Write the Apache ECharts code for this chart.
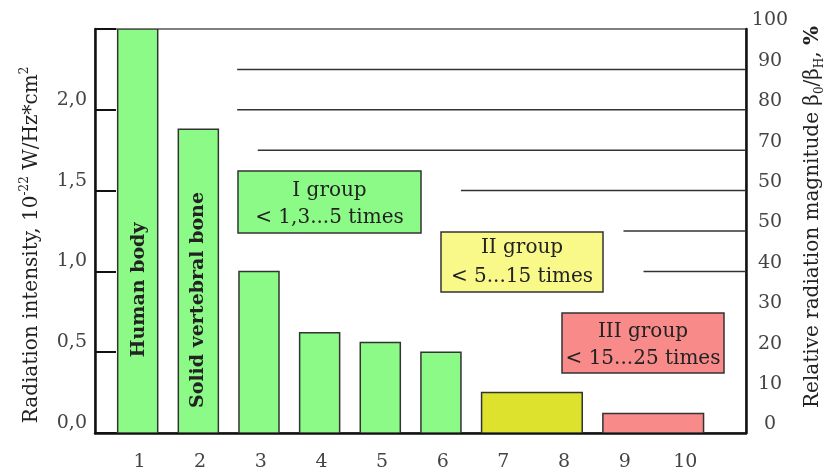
<!DOCTYPE html>
<html>
<head>
<meta charset="utf-8">
<script src="https://cdn.jsdelivr.net/npm/echarts@6/dist/echarts.min.js"></script>
<style>
html,body{margin:0;padding:0;background:#fff;}
#c{width:827px;height:475px;}
</style>
</head>
<body>
<div id="c"></div>
<script>
// ---- data ----
const xTickLabels = ['1','2','3','4','5','6','7','8','9','10'];
const xTickValues = [1,2,3,4,5,6,7,8,9,10];
const barStart = [1, 2, 3, 4, 5, 6, 7, 9];
const barEnd   = [1, 2, 3, 4, 5, 6, 8, 10];
const barValues = [2.5, 1.88, 1.0, 0.62, 0.56, 0.5, 0.25, 0.12];
const barGroup = [0, 0, 0, 0, 0, 0, 1, 2];
const barNames = ['Human body', 'Solid vertebral bone', '', '', '', '', '', ''];
const refLineStart = [2.61, 2.61, 2.95, 6.3, 8.98, 9.31];
const refLineValues = [90, 80, 70, 60, 50, 40];
const leftTickLabels = ['0,0', '0,5', '1,0', '1,5', '2,0', ''];
const rightTickLabels = ['0','10','20','30','40','50','50','70','80','90','100'];
const groupTitles = ['I group', 'II group', 'III group'];
const groupRanges = ['< 1,3...5 times', '< 5...15 times', '< 15...25 times'];

// ---- styles ----
const barFill = ['#8cfa86', '#dde22d', '#f88a8a'];
const boxFill = ['#8cfa86', '#f9f98a', '#f88a8a'];
const SERIF = '"DejaVu Serif", "Liberation Serif", serif';
const X_MIN = 0.266, X_MAX = 11.0;

const chart = echarts.init(document.getElementById('c'), null, {renderer: 'canvas'});

const barData = barValues.map((v, i) => [barStart[i], barEnd[i], v, barGroup[i], barNames[i]]);
const lineData = refLineValues.map((v, i) => [refLineStart[i], v]);

const option = {
  animation: false,
  backgroundColor: '#fff',
  grid: {left: 95, right: 81, top: 29, bottom: 42, show: true, borderColor: '#555', borderWidth: 1.5},
  xAxis: {
    type: 'value', min: X_MIN, max: X_MAX,
    axisLine: {show: true, onZero: false, lineStyle: {color: '#111', width: 2.5}},
    axisTick: {show: false},
    splitLine: {show: false},
    axisLabel: {
      customValues: xTickValues,
      formatter: v => xTickLabels[Math.round(v) - 1],
      margin: 20, fontFamily: SERIF, fontSize: 19, color: '#444'
    }
  },
  yAxis: [{
    type: 'value', min: 0, max: 2.5, interval: 0.5, position: 'left',
    axisLine: {show: true, lineStyle: {color: '#111', width: 2.5}},
    axisTick: {show: true, inside: true, length: 21, lineStyle: {color: '#111', width: 2}},
    splitLine: {show: false},
    axisLabel: {
      formatter: v => leftTickLabels[Math.round(v / 0.5)],
      margin: 8, fontFamily: SERIF, fontSize: 19, color: '#444',
      verticalAlign: 'bottom', lineHeight: 20
    }
  }, {
    type: 'value', min: 0, max: 100, interval: 10, position: 'right',
    axisLine: {show: true, lineStyle: {color: '#111', width: 2.5}},
    axisTick: {show: false},
    splitLine: {show: false},
    axisLabel: {
      formatter: v => rightTickLabels[Math.round(v / 10)],
      margin: 24, align: 'center', fontFamily: SERIF, fontSize: 19, color: '#444',
      verticalAlign: 'bottom', lineHeight: 17
    }
  }],
  series: [{
    type: 'custom',
    xAxisIndex: 0, yAxisIndex: 0,
    data: barData,
    clip: true,
    renderItem: function (params, api) {
      const s = api.value(0), e = api.value(1), v = api.value(2), g = api.value(3);
      const p0 = api.coord([s - 0.36, v]);
      const p1 = api.coord([e + 0.30, 0]);
      return {
        type: 'rect',
        shape: {x: p0[0], y: p0[1], width: p1[0] - p0[0], height: p1[1] - p0[1]},
        style: {fill: barFill[g], stroke: '#333', lineWidth: 1.5}
      };
    },
    z: 2
  }, {
    type: 'custom',
    xAxisIndex: 0, yAxisIndex: 1,
    data: lineData,
    renderItem: function (params, api) {
      const p0 = api.coord([api.value(0), api.value(1)]);
      const p1 = api.coord([X_MAX, api.value(1)]);
      return {
        type: 'line',
        shape: {x1: p0[0], y1: p0[1], x2: p1[0], y2: p1[1]},
        style: {stroke: '#333', lineWidth: 1.5}
      };
    },
    z: 3
  }],
  graphic: [
    // left axis title
    {
      type: 'text', x: 32, y: 245, rotation: Math.PI / 2,
      style: {
        text: 'Radiation intensity, 10{sup|-22} W/Hz*cm{sup|2}',
        fontFamily: SERIF, fontSize: 20, fill: '#222',
        align: 'center', verticalAlign: 'middle', lineHeight: 26,
        rich: {sup: {fontFamily: SERIF, fontSize: 12, fill: '#222', verticalAlign: 'top', lineHeight: 12}}
      }
    },
    // right axis title
    {
      type: 'text', x: 813, y: 217, rotation: Math.PI / 2,
      style: {
        text: 'Relative radiation magnitude β{sub|0}/β{sub|H}, {b|%}',
        fontFamily: SERIF, fontSize: 20, fill: '#222',
        align: 'center', verticalAlign: 'middle', lineHeight: 26,
        rich: {
          sub: {fontFamily: SERIF, fontSize: 12, fill: '#222', verticalAlign: 'bottom', lineHeight: 12},
          b: {fontFamily: SERIF, fontSize: 20, fontWeight: 'bold', fill: '#222'}
        }
      }
    },
    // bar labels
    {
      type: 'text', x: 139, y: 290, rotation: Math.PI / 2, z: 10,
      style: {text: barNames[0], fontFamily: SERIF, fontSize: 19, fontWeight: 'bold', fill: '#222', align: 'center', verticalAlign: 'middle'}
    },
    {
      type: 'text', x: 198, y: 300, rotation: Math.PI / 2, z: 10,
      style: {text: barNames[1], fontFamily: SERIF, fontSize: 19, fontWeight: 'bold', fill: '#222', align: 'center', verticalAlign: 'middle'}
    },
    // group boxes
    {type: 'rect', shape: {x: 238, y: 171, width: 183, height: 62}, style: {fill: boxFill[0], stroke: '#333', lineWidth: 1.5}, z: 10},
    {type: 'text', x: 329.5, y: 204, z: 11, style: {text: groupTitles[0] + '\n' + groupRanges[0], fontFamily: SERIF, fontSize: 20, lineHeight: 27, fill: '#222', align: 'center', verticalAlign: 'middle'}},
    {type: 'rect', shape: {x: 441, y: 232, width: 162, height: 60}, style: {fill: boxFill[1], stroke: '#333', lineWidth: 1.5}, z: 10},
    {type: 'text', x: 522, y: 262, z: 11, style: {text: groupTitles[1] + '\n' + groupRanges[1], fontFamily: SERIF, fontSize: 20, lineHeight: 29, fill: '#222', align: 'center', verticalAlign: 'middle'}},
    {type: 'rect', shape: {x: 562, y: 313, width: 162, height: 60}, style: {fill: boxFill[2], stroke: '#333', lineWidth: 1.5}, z: 10},
    {type: 'text', x: 643, y: 345, z: 11, style: {text: groupTitles[2] + '\n' + groupRanges[2], fontFamily: SERIF, fontSize: 20, lineHeight: 27, fill: '#222', align: 'center', verticalAlign: 'middle'}}
  ]
};
chart.setOption(option);
</script>
</body>
</html>
